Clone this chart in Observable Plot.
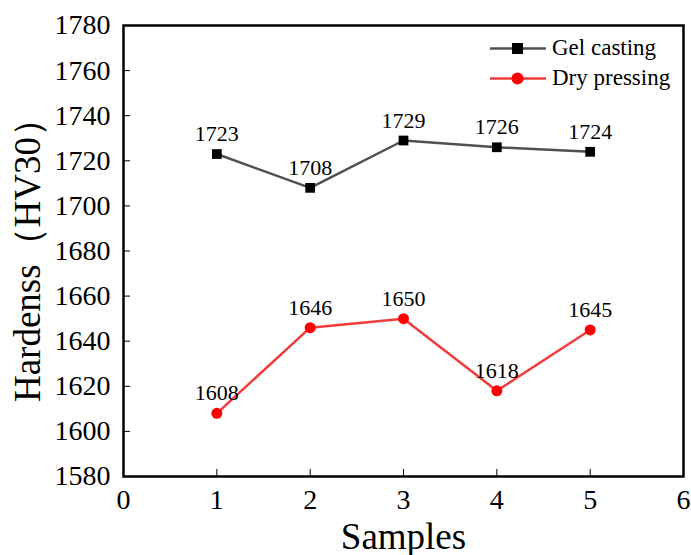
<!DOCTYPE html>
<html>
<head>
<meta charset="utf-8">
<script src="https://cdn.jsdelivr.net/npm/d3@7"></script>
<script src="https://cdn.jsdelivr.net/npm/@observablehq/plot@0.6"></script>
<style>
  body { margin: 0; background: #fff; }
  #wrap { position: relative; width: 691px; height: 555px; font-family: "Liberation Serif", "Times New Roman", serif; }
  #legend { position: absolute; left: 490px; top: 33px; font-size: 23px; line-height: 30px; }
  #legend div { display: flex; align-items: center; height: 30px; }
  #legend svg { margin-right: 6px; }
</style>
</head>
<body>
<div id="wrap"></div>
<script>
const samples = [1, 2, 3, 4, 5];
const gelCasting = [1723, 1708, 1729, 1726, 1724];
const dryPressing = [1608, 1646, 1650, 1618, 1645];
const xTicks = [0, 1, 2, 3, 4, 5, 6];
const yTicks = [1580, 1600, 1620, 1640, 1660, 1680, 1700, 1720, 1740, 1760, 1780];
const seriesNames = ["Gel casting", "Dry pressing"];

const gel = samples.map((s, i) => ({x: s, y: gelCasting[i]}));
const dry = samples.map((s, i) => ({x: s, y: dryPressing[i]}));

const font = "'Liberation Serif', 'Times New Roman', serif";
const chart = Plot.plot({
  width: 691,
  height: 555,
  marginLeft: 123,
  marginRight: 8,
  marginTop: 25,
  marginBottom: 79,
  style: {fontFamily: font, background: "white", color: "black"},
  x: {domain: [0, 6]},
  y: {domain: [1580, 1780]},
  marks: [
    Plot.axisX({ticks: xTicks, tickSize: -7, tickPadding: 20, fontSize: 28, tickFormat: d => String(d),
      label: "Samples", labelAnchor: "center", labelArrow: "none", labelOffset: 72}),
    Plot.axisY({ticks: yTicks, tickSize: -7, tickPadding: 20, fontSize: 28, tickFormat: d => String(d),
      label: "Hardenss（HV30）", labelAnchor: "center", labelArrow: "none", labelOffset: 110}),
    Plot.frame({stroke: "black", strokeWidth: 2.5}),
    Plot.line(gel, {x: "x", y: "y", stroke: "#505050", strokeWidth: 2.5}),
    Plot.dot(gel, {x: "x", y: "y", symbol: "square", r: 5.5, fill: "black"}),
    Plot.text(gel, {x: "x", y: "y", text: d => String(d.y), dy: -20, fontSize: 22, fill: "black"}),
    Plot.line(dry, {x: "x", y: "y", stroke: "#f03c3c", strokeWidth: 2.5}),
    Plot.dot(dry, {x: "x", y: "y", symbol: "circle", r: 5.5, fill: "#ff0000"}),
    Plot.text(dry, {x: "x", y: "y", text: d => String(d.y), dy: -20, fontSize: 22, fill: "black"})
  ]
});
const wrap = document.getElementById("wrap");
wrap.appendChild(chart);
// style axis labels
d3.select(chart).selectAll("[aria-label='x-axis label'] text, [aria-label='y-axis label'] text")
  .style("font-size", "37px").attr("fill", "black");

const legend = document.createElement("div");
legend.id = "legend";
const colors = [["#505050", "black", "square"], ["#f03c3c", "#ff0000", "circle"]];
seriesNames.forEach((name, i) => {
  const row = document.createElement("div");
  const [lc, mc, sh] = colors[i];
  const marker = sh === "square"
    ? `<rect x="22" y="9" width="11" height="11" fill="${mc}"/>`
    : `<circle cx="27.5" cy="14.5" r="6" fill="${mc}"/>`;
  row.innerHTML = `<svg width="56" height="29"><line x1="0" x2="56" y1="14.5" y2="14.5" stroke="${lc}" stroke-width="2.5"/>${marker}</svg><span>${name}</span>`;
  legend.appendChild(row);
});
wrap.appendChild(legend);
</script>
</body>
</html>
